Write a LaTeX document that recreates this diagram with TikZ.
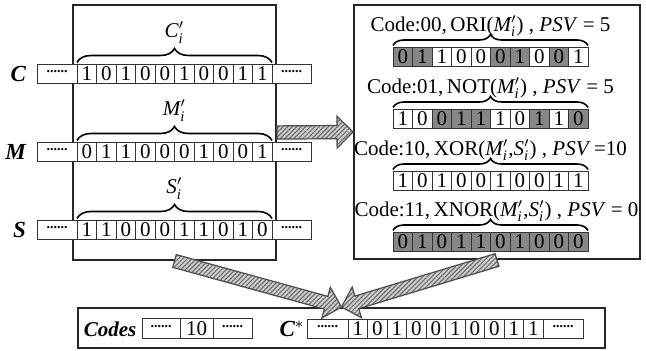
\documentclass[tikz,border=0pt]{standalone}
\usepackage{fontspec}
\setmainfont{Liberation Serif}
\usetikzlibrary{positioning, calc, decorations.pathreplacing, patterns.meta}
\definecolor{bitgray}{RGB}{135,135,135}
\definecolor{hatchbg}{RGB}{205,205,205}
\definecolor{hatchln}{RGB}{100,100,100}
\colorlet{on}{bitgray}
\colorlet{off}{white}

\newcommand{\celldots}{\raisebox{.45ex}{\scriptsize\bfseries ......}}
\newcommand{\seg}[1]{$\mathit{#1}'_{\mathit{i}}$}
% one row of ten bit cells: name, x of first cell, y, list of bit/fill
\newcommand{\bitrow}[4]{%
  \foreach \b/\s [count=\k] in {#4}
    \node[bit, fill=\s] (#1-\k) at ({#2+(\k-1)*19.5}, #3) {\b};}
% wide hatched arrow between two points
\newcommand{\fatarrow}[2]{%
  \coordinate (hb) at ($(#2)!8pt!(#1)$);
  \draw[fat] ($(#1)!3.3pt!90:(#2)$) -- ($(hb)!3.3pt!90:(#2)$) -- ($(hb)!8pt!90:(#2)$)
    -- (#2) -- ($(hb)!8pt!-90:(#2)$) -- ($(hb)!3.3pt!-90:(#2)$) -- ($(#1)!3.3pt!-90:(#2)$) -- cycle;}

\begin{document}
\begin{tikzpicture}[x=0.5pt, y=-0.5pt,
    every node/.style={font=\fontsize{10.5}{12}\selectfont},
    panel/.style={draw=black!85, line width=1pt},
    bit/.style={draw=black!80, line width=0.5pt, minimum width=9.75pt, minimum height=9.5pt, inner sep=0pt, outer sep=0pt},
    dotcell/.style={bit, fill=white, minimum width=20pt},
    rowlab/.style={font=\fontsize{11.5}{14}\selectfont\bfseries\itshape},
    brace/.style={decorate, decoration={brace, amplitude=7pt, raise=1pt}, line width=0.8pt},
    rbrace/.style={decoration={brace, amplitude=5.5pt, raise=1pt}},
    op/.style={above=4pt, inner sep=1pt},
    fat/.style={draw=black!70, line width=0.6pt, preaction={fill=hatchbg},
      pattern={Lines[angle=45, distance=1.6pt, line width=0.5pt]}, pattern color=hatchln}
  ]
  \useasboundingbox (0,0) rectangle (646,351);

  % frames
  \node[panel, minimum width=101.5pt, minimum height=127.5pt] (lbox) at (174.5,132.5) {};
  \node[panel, minimum width=143pt, minimum height=127pt] (rbox) at (497,132) {};
  \node[panel, minimum width=263.5pt, minimum height=20pt] (bbox) at (341.5,328) {};

  % C, M and S with their segments
  \bitrow{C}{86.75}{74}{1/off,0/off,1/off,0/off,0/off,1/off,0/off,0/off,1/off,1/off}
  \bitrow{M}{86.75}{152}{0/off,1/off,1/off,0/off,0/off,0/off,1/off,0/off,0/off,1/off}
  \bitrow{S}{86.75}{230}{1/off,1/off,0/off,0/off,0/off,1/off,1/off,0/off,1/off,0/off}
  \foreach \r in {C,M,S} {
    \node[dotcell, left=0pt of \r-1] (\r-dl) {\celldots};
    \node[dotcell, minimum width=19.5pt, right=0pt of \r-10] (\r-dr) {\celldots};
    \node[rowlab, left=2pt of \r-dl] (\r-lab) {\r};
  }
  \draw[brace] (C-1.north west) -- node[above=7pt] {\seg{C}} (C-10.north east);
  \draw[brace] (M-1.north west) -- node[above=7pt] {\seg{M}} (M-10.north east);
  \draw[brace] (S-1.north west) -- node[above=7pt] {\seg{S}} (S-10.north east);

  % the four candidate encodings
  \bitrow{ori}{402.75}{57}{0/on,1/on,1/off,0/off,0/off,0/on,1/on,0/off,0/on,1/off}
  \bitrow{not}{402.75}{119}{1/off,0/off,0/on,1/on,1/on,1/off,0/off,1/on,1/off,0/on}
  \bitrow{xor}{402.75}{181}{1/off,0/off,1/off,0/off,0/off,1/off,0/off,0/off,1/off,1/off}
  \bitrow{xnor}{402.75}{242}{0/on,1/on,0/on,1/on,1/on,0/on,1/on,0/on,0/on,0/on}
  \draw[brace, rbrace] (ori-1.north west) -- node[op] {Code:00,\,ORI(\seg{M}) , \textit{PSV} = 5} (ori-10.north east);
  \draw[brace, rbrace] (not-1.north west) -- node[op] {Code:01,\,NOT(\seg{M}) , \textit{PSV} = 5} (not-10.north east);
  \draw[brace, rbrace] (xor-1.north west) -- node[op] {Code:10,\,XOR(\seg{M},\seg{S}) , \textit{PSV}\,=10} (xor-10.north east);
  \draw[brace, rbrace] (xnor-1.north west) -- node[op, xshift=3pt] {Code:11,\,XNOR(\seg{M},\seg{S}) , \textit{PSV} = 0} (xnor-10.north east);

  % stored result
  \node[rowlab, font=\fontsize{10.5}{14}\selectfont\bfseries\itshape] (codes) at (110,329) {Codes};
  \node[dotcell, minimum width=19pt, minimum height=10pt] (cd-l) at (161,329) {\celldots};
  \node[bit, fill=white, minimum width=16.5pt, minimum height=10pt, right=0pt of cd-l] (cd-m) {10};
  \node[dotcell, minimum width=19.5pt, minimum height=10pt, right=0pt of cd-m] (cd-r) {\celldots};
  \node[rowlab] (cs-lab) at (292,329) {C$^{*}$};
  \bitrow{cs}{357.75}{329}{1/off,0/off,1/off,0/off,0/off,1/off,0/off,0/off,1/off,1/off}
  \node[dotcell, minimum width=20.5pt, left=0pt of cs-1] (cs-dl) {\celldots};
  \node[dotcell, right=0pt of cs-10] (cs-dr) {\celldots};

  % flow
  \fatarrow{lbox.east}{rbox.west}
  \fatarrow{lbox.south}{bbox.north}
  \fatarrow{rbox.south}{bbox.north}
\end{tikzpicture}
\end{document}
